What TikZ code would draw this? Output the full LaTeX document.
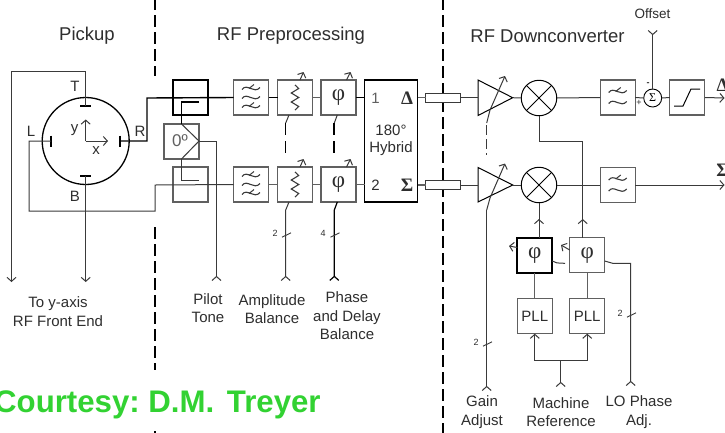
\documentclass[tikz,border=0pt]{standalone}
\usepackage{fontspec}
\setmainfont{Liberation Sans}
\newfontfamily\serifgreek{Liberation Serif}
\usetikzlibrary{arrows.meta,calc}
\definecolor{wire}{HTML}{3A3A3A}
\definecolor{boxgray}{HTML}{606060}
\definecolor{txt}{HTML}{2E2E2E}
\definecolor{courtesy}{HTML}{32D232}
\tikzset{
  wirestyle/.style={draw=wire,line width=1pt},
  heavywire/.style={draw=black,line width=1.4pt},
  thinwire/.style={draw=boxgray,line width=1.1pt},
  blockbox/.style={draw=boxgray,line width=1.3pt,fill=white,minimum width=35pt,minimum height=35pt,inner sep=0pt,outer sep=0pt,text=txt,font=\fontsize{15}{15}\selectfont},
  darkbox/.style={blockbox,draw=black,line width=1.7pt},
  hybridbox/.style={draw=black,line width=1.7pt,fill=white,minimum width=53pt,minimum height=122pt,inner sep=0pt,outer sep=0pt},
  delaybox/.style={draw=wire,line width=1pt,fill=white,minimum width=35pt,minimum height=8.8pt,inner sep=0pt,outer sep=0pt},
  mixer/.style={circle,draw=black,line width=1pt,fill=white,minimum size=35.5pt,inner sep=0pt,outer sep=0pt},
  sumnode/.style={circle,draw=black,line width=.9pt,fill=white,minimum size=18pt,inner sep=0pt,outer sep=0pt,font=\serifgreek\fontsize{12}{12}\selectfont},
  ampshape/.style={draw=black,line width=1pt,fill=white},
  title/.style={font=\fontsize{18.5}{20}\selectfont,text=txt,inner sep=0pt},
  label/.style={font=\fontsize{15}{18.5}\selectfont,text=txt,align=center,inner sep=0pt},
  tiny/.style={font=\fontsize{9}{9}\selectfont,text=txt,inner sep=0pt},
  outtip/.style={-{Straight Barb[length=4pt,width=9pt]}},
  intip/.style={-{Straight Barb[length=4pt,width=9pt,reversed]}},
  section/.style={draw=black,line width=1.5pt,dash pattern=on 12pt off 5pt},
}
\newcommand{\phisym}{{\serifgreek\fontsize{23}{23}\selectfont φ}}
\newcommand{\wavemark}[2]{%
  \draw[wire,line width=1.1pt] (#1-9,#2+1) .. controls (#1-4,#2-6) and (#1+3,#2+6) .. (#1+9,#2-1);}
\newcommand{\lpfmark}[2]{%
  \wavemark{#1}{#2-6}\wavemark{#1}{#2+5}
  \draw[wire,line width=1pt] (#1-2,#2-6) -- (#1+3,#2-10);}
\newcommand{\bpfmark}[2]{%
  \wavemark{#1}{#2-9}\wavemark{#1}{#2}\wavemark{#1}{#2+9}
  \draw[wire,line width=1pt] (#1-2,#2-9) -- (#1+3,#2-13);
  \draw[wire,line width=1pt] (#1-2,#2+9) -- (#1+3,#2+5);}
\newcommand{\zigzag}[2]{%
  \draw[wire,line width=1.1pt] (#1,#2-12.5) -- (#1+3.7,#2-9) -- (#1-3.7,#2-4.5) -- (#1+3.7,#2) -- (#1-3.7,#2+4.5) -- (#1+3.7,#2+9) -- (#1,#2+12.5);}
\newcommand{\tick}[2]{%
  \draw[wire,line width=.9pt] (#1-4.5,#2+2.2) -- (#1+4.5,#2-2.2);}
\begin{document}
\begin{tikzpicture}[x=1pt,y=-1pt]
\useasboundingbox (0,0) rectangle (725,432);
\fill[white] (0,0) rectangle (725,432);
% section separators
\draw[section] (155,-2) -- (155,76);
\draw[section] (155,227) -- (155,434);
\draw[section] (443,-2) -- (443,434);
% free ends
\coordinate (toY) at (11.5,282);
\coordinate (toB) at (85.7,282);
\coordinate (pilot) at (216.5,281);
\coordinate (ampin) at (285.7,281);
\coordinate (phasein) at (334.3,281);
\coordinate (gainin) at (486.7,391);
\coordinate (machin) at (560.7,387);
\coordinate (loin) at (630.7,386);
\coordinate (offsetin) at (652.7,30);
\coordinate (outD) at (724.5,98);
\coordinate (outS) at (724.5,185);
% pickup
\node[circle,draw=black,line width=1.3pt,minimum size=87pt,inner sep=0pt,outer sep=0pt] (pickup) at (85.7,141) {};
\coordinate (elT) at (85.7,106);
\coordinate (elB) at (85.7,176);
\coordinate (elL) at (51,141);
\coordinate (elR) at (120,141);
\draw[black,line width=2.2pt] ($(elT)+(-5.5,0)$) -- ($(elT)+(5.5,0)$);
\draw[black,line width=2.2pt] ($(elB)+(-5.5,0)$) -- ($(elB)+(5.5,0)$);
\draw[black,line width=2.2pt] ($(elL)+(0,-5.5)$) -- ($(elL)+(0,5.5)$);
\draw[black,line width=2.2pt] ($(elR)+(0,-5.5)$) -- ($(elR)+(0,5.5)$);
\coordinate (axo) at (85.7,141);
\coordinate (axy) at (85.7,119.5);
\coordinate (axx) at (108,141);
\draw[wirestyle,outtip] (axo) -- (axy);
\draw[wirestyle,outtip] (axo) -- (axx);
\draw[wirestyle,outtip] (elT) -- (85.7,71.5) -- (11.5,71.5) -- (toY);
\draw[wirestyle,outtip] (elB) -- (toB);
\node[label] (lT) at (75,86) {T};
\node[label] (lL) at (31,131) {L};
\node[label] (lR) at (140,131) {R};
\node[label] (lB) at (75,196) {B};
\node[label] (ly) at (74.5,130) {y};
\node[label] (lx) at (96,151) {x};
% blocks
\node[blockbox] (fT) at (251,97.5) {};
\node[blockbox] (fB) at (251,184.5) {};
\node[blockbox] (aT) at (295,97.5) {};
\node[blockbox] (aB) at (295,184.5) {};
\node[blockbox] (pT) at (338.5,97.5) {\phisym};
\node[blockbox] (pB) at (338.5,184.5) {\phisym};
\node[hybridbox] (hyb) at (391,141) {};
\node[delaybox] (dT) at (443.2,97.8) {};
\node[delaybox] (dB) at (443.2,185) {};
% couplers
\node[blockbox,draw=black,line width=1.7pt,fill=none] (cT) at (190.5,97.5) {};
\node[blockbox,fill=none] (cB) at (190.5,184.5) {};
\node[blockbox] (split) at (181.5,141.5) {};
\node[font=\fontsize{17}{17}\selectfont,text=boxgray,inner sep=0pt] (zero) at (180,141) {0º};
% front wiring
\draw[heavywire] (elR) -- (147,141) -- (147,98) -- (fT.west);
\draw[wirestyle] (elL) -- (29,141) -- (29,211) -- (155,211) -- (155,185) -- (fB.west);
\coordinate (spT) at (181.5,124);
\coordinate (spB) at (181.5,159);
\coordinate (spO) at (199,141);
\draw[wirestyle] (spT) -- (spO) -- (spB);
\draw[heavywire,line width=1.2pt] (199,102) -- (181.5,102) -- (spT);
\draw[wirestyle] (spB) -- (181.5,180) -- (199,180);
\draw[wirestyle,intip] (spO) -- (216.5,141) -- (pilot);
% chain wires
\draw[heavywire] (fT.east) -- (aT.west);
\draw[thinwire] (aT.east) -- (pT.west);
\draw[heavywire] (pT.east) -- (pT.east -| hyb.west);
\draw[thinwire] (fB.east) -- (aB.west);
\draw[thinwire] (aB.east) -- (pB.west);
\draw[thinwire] (pB.east) -- (pB.east -| hyb.west);
\draw[thinwire] (dT.west -| hyb.east) -- (dT.west);
\draw[thinwire] (dB.west -| hyb.east) -- (dB.west);
% filter, attenuator marks
\bpfmark{251}{97.5}
\bpfmark{251}{184.5}
\zigzag{295}{97.5}
\zigzag{295}{184.5}
% variable arrows
\draw[wirestyle,outtip] (aT.north) ++(5,0) -- ++(3.5,-8);
\draw[wirestyle,outtip] (aB.north) ++(5,0) -- ++(3.5,-8);
\draw[wirestyle,outtip] (pT.north) ++(8,0) -- ++(4,-8);
\draw[wirestyle,outtip] (pB.north) ++(8,0) -- ++(4,-8);
% ganged links
\coordinate (gA) at (285.7,123);
\coordinate (gP) at (334.3,123);
\draw[wirestyle] (289,115) -- (gA);
\draw[wirestyle] (337.3,115) -- (gP);
\draw[black,line width=1.5pt,dash pattern=on 12pt off 6pt] (gA) -- (285.7,153);
\draw[black,line width=2.1pt,dash pattern=on 12pt off 6pt] (gP) -- (334.3,153);
\draw[wirestyle,intip] (289,202) -- (285.7,210) -- (ampin);
\draw[black,line width=1.2pt,intip] (337.3,202) -- (334.3,210) -- (phasein);
\tick{286.5}{235}
\tick{335}{235}
\node[tiny] (n2a) at (275,233) {2};
\node[tiny] (n4p) at (323,233) {4};
% hybrid labels
\node[label,font=\fontsize{15}{15}\selectfont,text=boxgray] (h1) at (375.5,98) {1};
\node[label,font=\fontsize{15}{15}\selectfont] (h2) at (375.5,185) {2};
\node[font=\serifgreek\bfseries\fontsize{19}{19}\selectfont,text=txt,inner sep=0pt] (hD) at (407,98) {Δ};
\node[font=\serifgreek\bfseries\fontsize{19}{19}\selectfont,text=txt,inner sep=0pt] (hS) at (407,185) {Σ};
\node[label,font=\fontsize{15}{17}\selectfont] (hyblab) at (391,140.5) {180°\\Hybrid};
% downconverter
\coordinate (aTt) at (512.7,97.7);
\coordinate (aBt) at (512.7,185);
\draw[ampshape] (478,80) -- (aTt) -- (478,115.5) -- cycle;
\draw[ampshape] (478,167.5) -- (aBt) -- (478,202) -- cycle;
\draw[wirestyle,outtip] (486.7,123) -- (490,110) -- (505,76);
\draw[wirestyle,outtip] (486.7,210) -- (490,198) -- (505,163.5);
\draw[wire,line width=1.5pt,dash pattern=on 10pt off 4pt] (486.7,125) -- (486.7,155);
\draw[wirestyle,intip] (486.7,210) -- (gainin);
\tick{487.5}{344}
\node[tiny] (n2g) at (476,342) {2};
\draw[wirestyle] (dT.east) -- (478,97.8);
\draw[wirestyle] (dB.east) -- (478,185);
\node[mixer] (mT) at (539,98) {};
\node[mixer] (mB) at (539,185) {};
\foreach \m in {mT,mB}{
  \draw[black,line width=1pt] (\m.45) -- (\m.225);
  \draw[black,line width=1pt] (\m.135) -- (\m.315);
}
\draw[wirestyle] (aTt) -- (mT.west);
\draw[wirestyle] (aBt) -- (mB.west);
\node[blockbox] (lpT) at (617.7,97.5) {};
\node[blockbox] (lpB) at (617.7,185) {};
\lpfmark{617.7}{97.5}
\lpfmark{617.7}{185}
\node[sumnode] (sum) at (652.7,98) {Σ};
\node[blockbox] (lim) at (687.3,97.5) {};
\draw[black,line width=1pt] (674,106) -- (683,106) -- (691,89) -- (700,89);
\draw[wirestyle] (mT.east) -- (lpT.west);
\draw[wirestyle] (mB.east) -- (lpB.west);
\draw[wirestyle] (lpT.east) -- (sum.west);
\draw[wirestyle] (sum.east) -- (lim.west);
\draw[wirestyle,outtip] (lim.east) -- (outD);
\draw[wirestyle,outtip] (lpB.east) -- (outS);
\draw[wirestyle,intip] (sum.north) -- (offsetin);
\node[tiny,font=\fontsize{9}{9}\selectfont] (sumP) at (639,103) {+};
\node[tiny,font=\bfseries\fontsize{9}{9}\selectfont] (sumM) at (648,84.5) {-};
% LO
\node[darkbox] (lo1) at (534.8,255.3) {\phisym};
\node[blockbox] (lo2) at (587.2,255.3) {\phisym};
\node[blockbox] (pll1) at (534.8,316.2) {PLL};
\node[blockbox] (pll2) at (587.2,316.2) {PLL};
\draw[wirestyle] (lo1.north -| mB.south) -- (mB.south);
\draw[wirestyle,outtip] (539,237.7) -- (539,219);
\draw[wirestyle] (mT.south) -- (539,141) -- (582.7,141) -- (582.7,237.7);
\draw[wirestyle,outtip] (582.7,237.7) -- (582.7,219);
\draw[thinwire] (lo1.south) -- (pll1.north);
\draw[thinwire] (lo2.south) -- (pll2.north);
\coordinate (mJ) at (560.7,360);
\draw[wirestyle,outtip] (mJ) -- (534.8,360) -- (pll1.south);
\draw[wirestyle,outtip] (mJ) -- (587.2,360) -- (pll2.south);
\draw[wirestyle,intip] (mJ) -- (machin);
\draw[wirestyle,outtip] (517.3,247.5) -- (509,246);
\draw[wirestyle,outtip] (lo2.west |- 0,250) -- (561,245);
\draw[wirestyle] (lo1.east |- 0,261) .. controls (556,263) .. (565,263.3);
\draw[wirestyle,intip] (lo2.east |- 0,261) -- (612.7,263.3) -- (630.7,263.3) -- (loin);
\tick{631.5}{315}
\node[tiny] (n2l) at (620,313) {2};
% titles and labels
\node[title] (tP) at (87,36) {Pickup};
\node[title] (tR) at (291,36) {RF Preprocessing};
\node[title] (tD) at (547.5,36) {RF Downconverter};
\node[label,font=\fontsize{13.5}{16}\selectfont] (off) at (652.5,13.5) {Offset};
\node[label] (lbY) at (58,311.5) {To y-axis\\RF Front End};
\node[label] (lbP) at (208,308) {Pilot\\Tone};
\node[label] (lbA) at (272,309) {Amplitude\\Balance};
\node[label] (lbD) at (347,316) {Phase\\and Delay\\Balance};
\node[label] (lbG) at (482,412) {Gain\\Adjust};
\node[label] (lbM) at (561,412) {Machine\\Reference};
\node[label] (lbL) at (639,412) {LO Phase\\Adj.};
\node[font=\serifgreek\bfseries\fontsize{19}{19}\selectfont,text=txt,inner sep=0pt] (oD) at (722.5,85) {Δ};
\node[font=\serifgreek\bfseries\fontsize{19}{19}\selectfont,text=txt,inner sep=0pt] (oS) at (722.5,170) {Σ};
% courtesy
\fill[white] (0,370) rectangle (340,429);
\node[anchor=base west,inner sep=0pt,text=courtesy,font=\bfseries\fontsize{31.2}{34}\selectfont] (court) at (-6,412) {Courtesy:\hspace{-3pt} D.M.\hspace{4pt} Treyer};
\end{tikzpicture}
\end{document}
